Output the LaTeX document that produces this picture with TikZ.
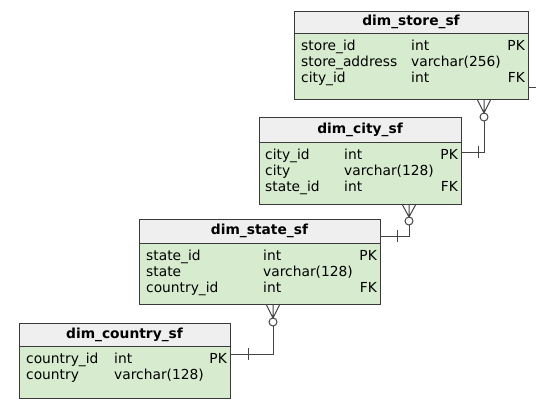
\documentclass[tikz,border=0pt]{standalone}
\usepackage{fontspec}
\setmainfont{DejaVu Sans}
\definecolor{boxline}{HTML}{3A3A3A}
\definecolor{linkline}{HTML}{444444}
\definecolor{hdrfill}{HTML}{EFEFEF}
\definecolor{bodyfill}{HTML}{D7ECCF}
\newcommand{\tblfont}{\fontsize{13.8}{16}\selectfont}
\tikzset{
  tblhead/.style={draw=boxline, fill=hdrfill, line width=0.9pt, outer sep=0pt, anchor=north west, inner sep=0pt, font=\tblfont\bfseries},
  tblbody/.style={draw=boxline, fill=bodyfill, line width=0.9pt, outer sep=0pt, anchor=north, inner sep=0pt},
  fld/.style={anchor=base west, inner sep=0pt},
  keyfld/.style={anchor=base east, inner sep=0pt},
  link/.style={draw=linkline, line width=1pt}
}
\begin{document}
\begin{tikzpicture}[x=1pt,y=-1pt,font=\tblfont]
\useasboundingbox[fill=white] (0,0) rectangle (556,408);

% dim_store_sf
\node[tblhead, minimum width=234pt, minimum height=22pt] (storeH) at (294,11) {dim\_store\_sf};
\node[tblbody, minimum width=234pt, minimum height=66pt] (store) at (storeH.south) {};
\node[fld] (storeA) at (301,50) {store\_id};
\node[fld] at (411,50) {int};
\node[keyfld] (storePK) at (525,50) {PK};
\node[fld] at (301,66) {store\_address};
\node[fld] at (411,66) {varchar(256)};
\node[fld] at (301,82) {city\_id};
\node[fld] at (411,82) {int};
\node[keyfld] (storeFK) at (525,82) {FK};

% dim_city_sf
\node[tblhead, minimum width=202pt, minimum height=25pt] (cityH) at (259,117) {dim\_city\_sf};
\node[tblbody, minimum width=202pt, minimum height=62pt] (city) at (cityH.south) {};
\node[fld] at (265,159) {city\_id};
\node[fld] at (344,159) {int};
\node[keyfld] (cityPK) at (458,159) {PK};
\node[fld] at (265,175) {city};
\node[fld] at (344,175) {varchar(128)};
\node[fld] at (265,191) {state\_id};
\node[fld] at (344,191) {int};
\node[keyfld] (cityFK) at (458,191) {FK};

% dim_state_sf
\node[tblhead, minimum width=241pt, minimum height=24pt] (stateH) at (139,219) {dim\_state\_sf};
\node[tblbody, minimum width=241pt, minimum height=61pt] (state) at (stateH.south) {};
\node[fld] at (146,260) {state\_id};
\node[fld] at (263,260) {int};
\node[keyfld] (statePK) at (377,260) {PK};
\node[fld] at (146,276) {state};
\node[fld] at (263,276) {varchar(128)};
\node[fld] at (146,292) {country\_id};
\node[fld] at (263,292) {int};
\node[keyfld] (stateFK) at (377,292) {FK};

% dim_country_sf
\node[tblhead, minimum width=211pt, minimum height=23pt] (countryH) at (19,323) {dim\_country\_sf};
\node[tblbody, minimum width=211pt, minimum height=52pt] (country) at (countryH.south) {};
\node[fld] at (26,363) {country\_id};
\node[fld] at (114,363) {int};
\node[keyfld] (countryPK) at (227,363) {PK};
\node[fld] at (26,379) {country};
\node[fld] at (114,379) {varchar(128)};

% store -> city
\coordinate (stub) at (536,87);
\draw[link] (store.east |- stub) -- (stub);
\coordinate (sc) at (484,113);
\draw[link] (store.south -| 477,0) -- (sc) -- (store.south -| 491,0) (store.south -| sc) -- (sc);
\draw[link] (484,121) |- (city.east |- 0,152);
\draw[link,fill=white] (484,117) circle (4pt);
\draw[link] (478,146) -- ++(0,12);

% city -> state
\coordinate (cs) at (409,217);
\draw[link] (city.south -| 402,0) -- (cs) -- (city.south -| 416,0) (city.south -| cs) -- (cs);
\draw[link] (409,225) |- (stateH.east |- 0,236);
\draw[link,fill=white] (409,221) circle (4pt);
\draw[link] (397,230) -- ++(0,12);

% state -> country
\coordinate (sk) at (273,318);
\draw[link] (state.south -| 266,0) -- (sk) -- (state.south -| 280,0) (state.south -| sk) -- (sk);
\draw[link] (273,326) |- (country.east |- 0,354);
\draw[link,fill=white] (273,322) circle (4pt);
\draw[link] (248,348) -- ++(0,12);
\end{tikzpicture}
\end{document}
